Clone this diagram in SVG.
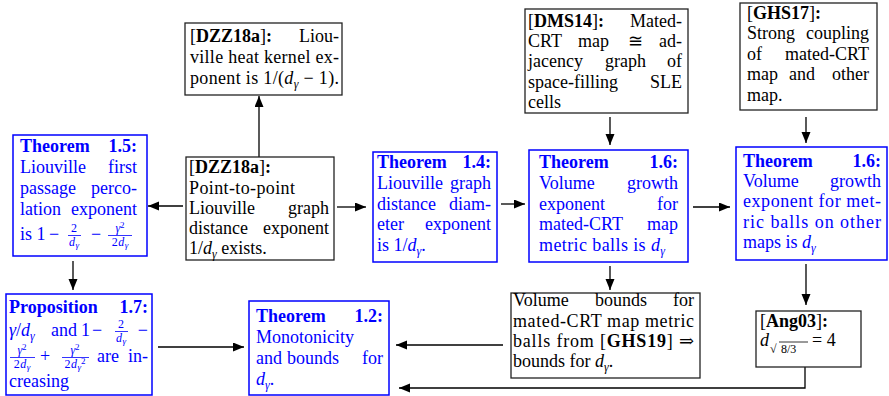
<svg xmlns="http://www.w3.org/2000/svg" width="889" height="396" viewBox="0 0 889 396">
<style>
text { font-family: "Liberation Serif", "DejaVu Serif", serif; font-size: 18px; fill: #000; }
.blue text { fill: #0000ff; }
.b { font-weight: bold; }
.i { font-style: italic; }
.sm { font-size: 12px; }
.ss { font-size: 9px; }
.e { text-anchor: end; }
.m { text-anchor: middle; }
.bk rect { fill: #fff; stroke: #222; stroke-width: 1.3; }
.blue rect { fill: #fff; stroke: #0000ff; stroke-width: 1.5; }
.fb { stroke: #0000ff; stroke-width: 0.8; }
.rb { stroke: #000; stroke-width: 0.8; }
#connectors path { fill: none; stroke: #000; stroke-width: 1.3; marker-end: url(#ah); }
</style>
<defs>
<marker id="ah" markerUnits="userSpaceOnUse" markerWidth="12" markerHeight="10" refX="11" refY="4.5" orient="auto">
<path d="M0,0 L11,4.5 L0,9 z" fill="#000"/>
</marker>
</defs>

<g id="connectors">
<path d="M259,157 L259,96"/>
<path d="M183,206 L148,206"/>
<path d="M337,207 L366,207"/>
<path d="M501,204 L525,204"/>
<path d="M693,207 L730,207"/>
<path d="M610,117 L610,145"/>
<path d="M806,117 L806,143"/>
<path d="M610,266 L610,290"/>
<path d="M806,264 L806,305"/>
<path d="M73,261 L73,290"/>
<path d="M158,347 L244,347"/>
<path d="M503,345 L396,345"/>
<path d="M805,367 L805,388 L399,388"/>
</g>

<g id="thm15" class="blue">
<rect x="13" y="135" width="134" height="121"/>
<text class="b" x="20" y="152">Theorem</text><text class="b e" x="137" y="152">1.5:</text>
<text x="20" y="173">Liouville</text><text class="e" x="137" y="173">first</text>
<text x="20" y="194">passage</text><text class="e" x="137" y="194">perco-</text>
<text x="20" y="215">lation</text><text class="e" x="137" y="215">exponent</text>
<text x="20" y="240">is 1</text>
<text x="49" y="240">−</text>
<text class="sm m" x="74" y="232">2</text>
<line class="fb" x1="68" y1="235.5" x2="81" y2="235.5"/>
<text class="sm m" x="74" y="246"><tspan class="i">d</tspan><tspan class="ss i" dx="0.5" dy="2">γ</tspan></text>
<text x="91" y="240">−</text>
<text class="sm m" x="120" y="232"><tspan class="i">γ</tspan><tspan class="ss" dy="-4">2</tspan></text>
<line class="fb" x1="108" y1="235.5" x2="132" y2="235.5"/>
<text class="sm m" x="120" y="246">2<tspan class="i" dx="0.5">d</tspan><tspan class="ss i" dx="0.5" dy="2">γ</tspan></text>
</g>

<g id="dzz18a-heat" class="bk">
<rect x="185" y="23" width="157" height="72"/>
<text x="190" y="42">[<tspan class="b">DZZ18a</tspan>]<tspan class="b">:</tspan></text><text class="e" x="339" y="42">Liou-</text>
<text x="190" y="63" textLength="149" lengthAdjust="spacing">ville heat kernel ex-</text>
<text x="190" y="84" textLength="149" lengthAdjust="spacing">ponent is 1/(<tspan class="i">d</tspan><tspan class="sm i" dy="4">γ</tspan><tspan dy="-4"> − 1).</tspan></text>
</g>

<g id="dzz18a-p2p" class="bk">
<rect x="186" y="157" width="148" height="103"/>
<text x="189" y="173">[<tspan class="b">DZZ18a</tspan>]<tspan class="b">:</tspan></text>
<text x="189" y="194" textLength="106" lengthAdjust="spacing">Point-to-point</text>
<text x="189" y="214">Liouville</text><text class="e" x="329" y="214">graph</text>
<text x="189" y="234">distance</text><text class="e" x="329" y="234">exponent</text>
<text x="189" y="254">1/<tspan class="i">d</tspan><tspan class="sm i" dy="4">γ</tspan><tspan dy="-4"> exists.</tspan></text>
</g>

<g id="thm14" class="blue">
<rect x="373" y="152" width="124" height="110"/>
<text class="b" x="377" y="168">Theorem</text><text class="b e" x="491" y="168">1.4:</text>
<text x="377" y="189">Liouville</text><text class="e" x="491" y="189">graph</text>
<text x="377" y="210">distance</text><text class="e" x="491" y="210">diam-</text>
<text x="377" y="230">eter</text><text class="e" x="491" y="230">exponent</text>
<text x="377" y="251">is 1/<tspan class="i">d</tspan><tspan class="sm i" dy="4">γ</tspan><tspan dy="-4">.</tspan></text>
</g>

<g id="dms14" class="bk">
<rect x="525" y="9" width="163" height="104"/>
<text x="528" y="27">[<tspan class="b">DMS14</tspan>]<tspan class="b">:</tspan></text><text class="e" x="682" y="27">Mated-</text>
<text x="528" y="47">CRT</text><text x="578" y="47">map</text><text x="628" y="47">≅</text><text class="e" x="682" y="47">ad-</text>
<text x="528" y="67">jacency</text><text x="605" y="67">graph</text><text class="e" x="682" y="67">of</text>
<text x="528" y="88">space-filling</text><text class="e" x="682" y="88">SLE</text>
<text x="528" y="108">cells</text>
</g>

<g id="thm16-mated" class="blue">
<rect x="529" y="150" width="159" height="112"/>
<text class="b" x="539" y="168">Theorem</text><text class="b e" x="678" y="168">1.6:</text>
<text x="539" y="189">Volume</text><text class="e" x="678" y="189">growth</text>
<text x="539" y="210">exponent</text><text class="e" x="678" y="210">for</text>
<text x="539" y="230">mated-CRT</text><text class="e" x="678" y="230">map</text>
<text x="539" y="251" textLength="126" lengthAdjust="spacing">metric balls is <tspan class="i">d</tspan><tspan class="sm i" dy="4">γ</tspan></text>
</g>

<g id="ghs17" class="bk">
<rect x="740" y="3" width="137" height="107"/>
<text x="747" y="19">[<tspan class="b">GHS17</tspan>]<tspan class="b">:</tspan></text>
<text x="747" y="39">Strong</text><text class="e" x="869" y="39">coupling</text>
<text x="747" y="60">of</text><text class="e" x="869" y="60">mated-CRT</text>
<text x="747" y="80">map</text><text x="789" y="80">and</text><text class="e" x="869" y="80">other</text>
<text x="747" y="101">map.</text>
</g>

<g id="thm16-other" class="blue">
<rect x="736" y="147" width="151" height="113"/>
<text class="b" x="743" y="167">Theorem</text><text class="b e" x="881" y="167">1.6:</text>
<text x="743" y="187">Volume</text><text class="e" x="881" y="187">growth</text>
<text x="743" y="207" textLength="138" lengthAdjust="spacing">exponent for met-</text>
<text x="743" y="228" textLength="138" lengthAdjust="spacing">ric balls on other</text>
<text x="743" y="248">maps is <tspan class="i">d</tspan><tspan class="sm i" dy="4">γ</tspan></text>
</g>

<g id="ang03" class="bk">
<rect x="756" y="311" width="105" height="56"/>
<text x="760" y="327">[<tspan class="b">Ang03</tspan>]<tspan class="b">:</tspan></text>
<text class="i" x="760" y="346">d</text>
<text class="sm" x="770" y="353">√</text>
<line class="rb" x1="779" y1="342" x2="808" y2="342"/>
<text class="sm" x="781" y="353">8/3</text>
<text x="812" y="346">= 4</text>
</g>

<g id="volume-bounds" class="bk">
<rect x="511" y="293" width="189" height="85"/>
<text x="513" y="306">Volume</text><text x="595" y="306">bounds</text><text class="e" x="694" y="306">for</text>
<text x="513" y="327" textLength="181" lengthAdjust="spacing">mated-CRT map metric</text>
<text x="513" y="347" textLength="181" lengthAdjust="spacing">balls from [<tspan class="b">GHS19</tspan>] ⇒</text>
<text x="513" y="367">bounds for <tspan class="i">d</tspan><tspan class="sm i" dy="4">γ</tspan><tspan dy="-4">.</tspan></text>
</g>

<g id="prop17" class="blue">
<rect x="6" y="294" width="146" height="101"/>
<text class="b" x="9" y="313">Proposition</text><text class="b e" x="148" y="313">1.7:</text>
<text x="9" y="336"><tspan class="i">γ</tspan>/<tspan class="i">d</tspan><tspan class="sm i" dy="4">γ</tspan></text>
<text x="51" y="336">and</text>
<text x="81" y="336">1</text>
<text x="92" y="336">−</text>
<text class="sm m" x="121" y="328">2</text>
<line class="fb" x1="115" y1="331.5" x2="128" y2="331.5"/>
<text class="sm m" x="121" y="342"><tspan class="i">d</tspan><tspan class="ss i" dx="0.5" dy="2">γ</tspan></text>
<text class="e" x="148" y="336">−</text>
<text class="sm m" x="22" y="354"><tspan class="i">γ</tspan><tspan class="ss" dy="-4">2</tspan></text>
<line class="fb" x1="10" y1="357.5" x2="35" y2="357.5"/>
<text class="sm m" x="22" y="368">2<tspan class="i" dx="0.5">d</tspan><tspan class="ss i" dx="0.5" dy="2">γ</tspan></text>
<text x="40" y="362">+</text>
<text class="sm m" x="75" y="354"><tspan class="i">γ</tspan><tspan class="ss" dy="-4">2</tspan></text>
<line class="fb" x1="62" y1="357.5" x2="89" y2="357.5"/>
<text class="sm m" x="75" y="368">2<tspan class="i" dx="0.5">d</tspan><tspan class="ss i" dx="0.5" dy="2">γ</tspan><tspan class="ss" dy="-6">2</tspan></text>
<text x="97" y="362">are</text><text class="e" x="148" y="362">in-</text>
<text x="9" y="387">creasing</text>
</g>

<g id="thm12" class="blue">
<rect x="249" y="301" width="140" height="94"/>
<text class="b" x="256" y="322">Theorem</text><text class="b e" x="383" y="322">1.2:</text>
<text x="256" y="343">Monotonicity</text>
<text x="256" y="364">and</text><text x="287" y="364">bounds</text><text class="e" x="383" y="364">for</text>
<text x="256" y="385"><tspan class="i">d</tspan><tspan class="sm i" dy="4">γ</tspan><tspan dy="-4">.</tspan></text>
</g>
</svg>
